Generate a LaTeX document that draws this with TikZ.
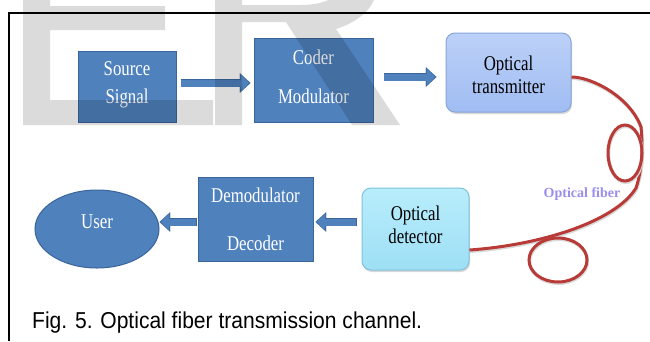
\documentclass[tikz,border=0pt]{standalone}
\usepackage{fontspec}
\usetikzlibrary{shapes.geometric,arrows.meta,shadows}
\newfontfamily\boxfont{Liberation Serif}[FakeStretch=0.8]
\newfontfamily\fiberfont{Liberation Serif}
\newfontfamily\captionfont{Liberation Sans}[FakeStretch=0.915]
% move box text vertically without changing the box that is centred
\newcommand\liftby[2]{\raisebox{#1}[\height][\depth]{#2}}
\newcommand\boxlines[3]{\begin{tabular}{@{}c@{}}#1\\[#3]#2\end{tabular}}
\definecolor{boxblue}{HTML}{4F81BD}
\definecolor{boxedge}{HTML}{3A659A}
\definecolor{txtop}{HTML}{BCD1F8}
\definecolor{txbottom}{HTML}{A0BCF2}
\definecolor{txedge}{HTML}{86A5DA}
\definecolor{rxtop}{HTML}{B8EDFC}
\definecolor{rxbottom}{HTML}{9EDFF5}
\definecolor{rxedge}{HTML}{7FC3DB}
\definecolor{fiberred}{HTML}{B83B37}
\definecolor{fiberlabel}{HTML}{9A8EEE}
\begin{document}
\begin{tikzpicture}[x=1pt,y=-1pt,
  boxtext/.style={font=\boxfont\fontsize{21}{21}\selectfont},
  darkbox/.style={boxtext, rectangle, draw=boxedge, line width=1pt, fill=boxblue,
    text=white, inner sep=0pt},
  lightbox/.style={boxtext, rectangle, rounded corners=9pt, line width=1pt,
    text=black, inner sep=0pt,
    drop shadow={shadow xshift=1pt, shadow yshift=-2pt, opacity=0.3}},
  blockarrow/.style n args={2}{
    preaction={draw=boxedge, line width=8.8pt, shorten <=#1, shorten >=#2,
      -{Triangle[length=10.6pt,width=19.4pt,line width=0.1pt]}},
    draw=boxblue, line width=7pt, shorten <=#1+0.9pt, shorten >=#2+1.3pt,
    -{Triangle[length=8.4pt,width=16.4pt,line width=0.1pt]}},
  fibre/.style={draw=fiberred, line width=3pt,
    preaction={draw=black!15, line width=3.2pt,
      transform canvas={xshift=0.6pt, yshift=-1.4pt}}},
  watermark/.style={fill=black, fill opacity=0.14}]
\useasboundingbox (0,0) rectangle (650,341);
\fill[white] (0,0) rectangle (650,341);

% frame round the figure
\draw[line width=1.2pt] (9,341) -- (9,13) -- (650,13);

% transmitting chain
\node[darkbox, minimum width=98pt, minimum height=71pt] (src) at (127,86.5)
  {\liftby{1.7pt}{\boxlines{Source}{Signal}{7pt}}};
\node[darkbox, minimum width=119pt, minimum height=84pt] (cod) at (313.5,80)
  {\liftby{0.7pt}{\boxlines{Coder}{Modulator}{18pt}}};
\node[lightbox, top color=txtop, bottom color=txbottom, draw=txedge,
  minimum width=125pt, minimum height=79pt] (tx) at (508.5,72.5)
  {\liftby{-4.8pt}{\boxlines{Optical}{transmitter}{2pt}}};

% receiving chain
\node[lightbox, top color=rxtop, bottom color=rxbottom, draw=rxedge,
  minimum width=107pt, minimum height=82pt] (rx) at (415.5,229)
  {\liftby{1.7pt}{\boxlines{Optical}{detector}{2pt}}};
\node[darkbox, minimum width=115pt, minimum height=84pt] (dem) at (255.5,219)
  {\liftby{-2.8pt}{\boxlines{Demodulator}{Decoder}{27pt}}};
\node[darkbox, ellipse, minimum width=124pt, minimum height=78pt] (usr) at (97,229)
  {\liftby{5.2pt}{\begin{tabular}{@{}c@{}}User\end{tabular}}};

% block arrows between the stages
\draw[blockarrow={4pt}{3pt}] (src.east |- 0,83) -- (cod.west |- 0,83);
\draw[blockarrow={10pt}{9pt}] (cod.east |- 0,77) -- (tx.west |- 0,77);
\draw[blockarrow={5pt}{2pt}] (rx.west |- 0,222) -- (dem.east |- 0,222);
\draw[blockarrow={1pt}{0pt}] (dem.west |- 0,222) -- (usr.east |- 0,222);

% optical fiber with its two coils
\draw[fibre] (tx.east |- 0,77) .. controls (592,77) and (630,97) .. (641,127)
  .. controls (643,150) and (642,170) .. (636,188)
  .. controls (615,222) and (540,245) .. (rx.east |- 0,250);
\draw[fibre] (625,153) ellipse [x radius=17, y radius=28];
\draw[fibre] (558,260) ellipse [x radius=29, y radius=22];
\node[font=\fiberfont\bfseries\fontsize{14}{14}\selectfont, text=fiberlabel,
  anchor=base, inner sep=0pt] (fiblabel) at (582,197) {Optical fiber};

% caption
\node[font=\captionfont\fontsize{23}{23}\selectfont, anchor=base west, inner sep=0pt]
  (caption) at (32,328) {Fig. 5. Optical fiber transmission channel.};

% grey lettering laid over the top of the figure
\fill[watermark] (23,0) -- (50,0) -- (50,6) -- (165,6) -- (165,30) -- (50,30)
  -- (50,100) -- (213,100) -- (213,125) -- (23,125) -- cycle;
\fill[watermark] (215,0) -- (242,0) -- (242,5) -- (300,5)
  .. controls (315,5) and (325,2) .. (328,0) -- (374,0)
  .. controls (368,14) and (352,24) .. (336,29) -- (400,125) -- (352,125)
  -- (286,22) -- (242,22) -- (242,125) -- (215,125) -- cycle;
\end{tikzpicture}
\end{document}
